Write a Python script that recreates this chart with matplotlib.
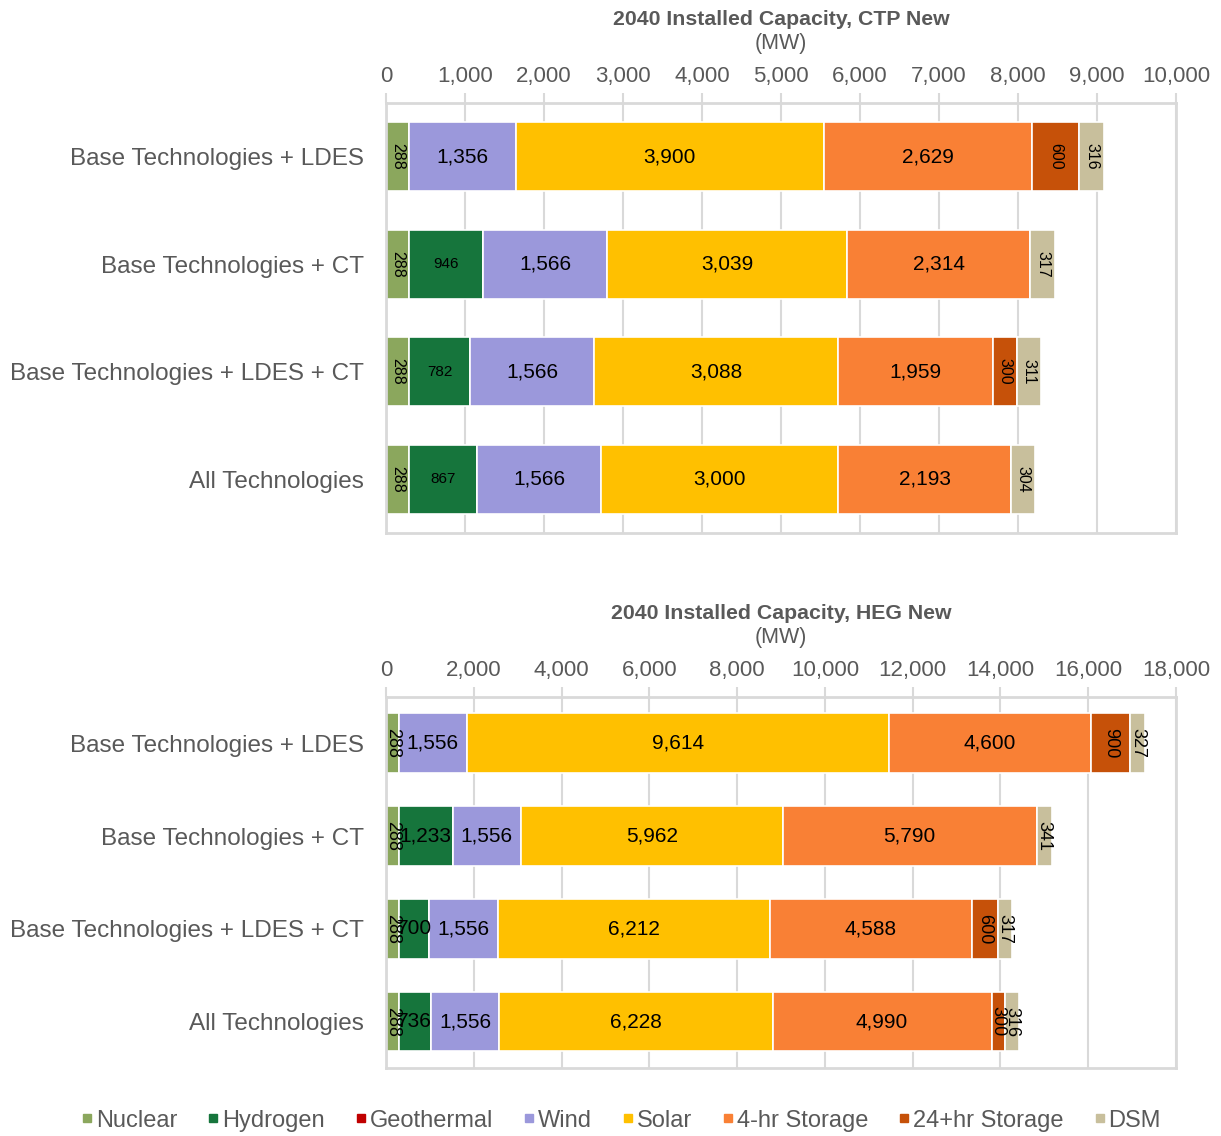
import matplotlib
matplotlib.use("Agg")
import matplotlib.pyplot as plt
from matplotlib.ticker import FuncFormatter, MultipleLocator
from matplotlib.lines import Line2D

plt.rcParams['font.family'] = ['Liberation Sans', 'DejaVu Sans']

categories = ["Base Technologies + LDES", "Base Technologies + CT",
              "Base Technologies + LDES + CT", "All Technologies"]
series = ["Nuclear", "Hydrogen", "Geothermal", "Wind", "Solar",
          "4-hr Storage", "24+hr Storage", "DSM"]
colors = ["#8BA75D", "#16753C", "#C00000", "#9B98DB", "#FFC000",
          "#F98035", "#C65109", "#C8BF9C"]

# CTP New, one list per technology (rows follow categories)
ctp_nuclear = [288, 288, 288, 288]
ctp_hydrogen = [0, 946, 782, 867]
ctp_geothermal = [0, 0, 0, 0]
ctp_wind = [1356, 1566, 1566, 1566]
ctp_solar = [3900, 3039, 3088, 3000]
ctp_4hr = [2629, 2314, 1959, 2193]
ctp_24hr = [600, 0, 300, 0]
ctp_dsm = [316, 317, 311, 304]

# HEG New
heg_nuclear = [288, 288, 288, 288]
heg_hydrogen = [0, 1233, 700, 736]
heg_geothermal = [0, 0, 0, 0]
heg_wind = [1556, 1556, 1556, 1556]
heg_solar = [9614, 5962, 6212, 6228]
heg_4hr = [4600, 5790, 4588, 4990]
heg_24hr = [900, 0, 600, 300]
heg_dsm = [327, 341, 317, 316]

GRID = "#D9D9D9"
TXT = "#595959"


def draw(ax, data, xmax, step, title, label_style, bar_h):
    y = list(range(len(categories)))
    left = [0] * len(categories)
    for name, vals, col in zip(series, data, colors):
        ax.barh(y, vals, left=left, height=bar_h, color=col,
                edgecolor="white", linewidth=1.2, zorder=2)
        rot, size = label_style[name]
        for i, v in enumerate(vals):
            if v > 0:
                ax.text(left[i] + v / 2, y[i], f"{v:,}", ha="center",
                        va="center", rotation=rot, fontsize=size,
                        color="black", zorder=3)
        left = [a + b for a, b in zip(left, vals)]

    ax.set_xlim(0, xmax)
    ax.set_ylim(len(categories) - 0.5, -0.5)
    ax.set_yticks(y)
    ax.set_yticklabels(categories)
    ax.xaxis.set_major_locator(MultipleLocator(step))
    ax.xaxis.set_major_formatter(FuncFormatter(lambda v, p: f"{int(v):,}"))
    ax.xaxis.tick_top()
    ax.tick_params(axis="x", length=7, width=1.5, color=GRID, pad=4.5,
                   labelsize=16, labelcolor=TXT)
    ax.tick_params(axis="y", length=0, pad=16, labelsize=17.5, labelcolor=TXT)
    ax.grid(axis="x", color=GRID, linewidth=1.5)
    ax.set_axisbelow(True)
    for sp in ax.spines.values():
        sp.set_color(GRID)
        sp.set_linewidth(2)

    pos = ax.get_position()
    cx = (pos.x0 + pos.x1) / 2
    fig.text(cx, pos.y1 + 0.0735, title, ha="center", va="center",
             fontsize=15.3, fontweight="bold", color=TXT)
    fig.text(cx, pos.y1 + 0.0525, "(MW)", ha="center", va="center",
             fontsize=15.5, color=TXT)


fig = plt.figure(figsize=(12.21, 11.36), dpi=100)
ax1 = fig.add_axes([0.3161, 0.5308, 0.647, 0.3785])
ax2 = fig.add_axes([0.3161, 0.0599, 0.647, 0.3266])

top_style = {"Nuclear": (270, 11.5), "Hydrogen": (0, 11), "Geothermal": (0, 11),
             "Wind": (0, 15), "Solar": (0, 15), "4-hr Storage": (0, 15),
             "24+hr Storage": (270, 11.5), "DSM": (270, 11.5)}
bottom_style = {"Nuclear": (270, 13), "Hydrogen": (0, 15), "Geothermal": (0, 15),
                "Wind": (0, 15), "Solar": (0, 15), "4-hr Storage": (0, 15),
                "24+hr Storage": (270, 13), "DSM": (270, 13)}

draw(ax1, [ctp_nuclear, ctp_hydrogen, ctp_geothermal, ctp_wind, ctp_solar,
           ctp_4hr, ctp_24hr, ctp_dsm],
     10000, 1000, "2040 Installed Capacity, CTP New", top_style, 0.64)
draw(ax2, [heg_nuclear, heg_hydrogen, heg_geothermal, heg_wind, heg_solar,
           heg_4hr, heg_24hr, heg_dsm],
     18000, 2000, "2040 Installed Capacity, HEG New", bottom_style, 0.645)

handles = [Line2D([], [], marker="s", linestyle="", markersize=6,
                  markerfacecolor=c, markeredgecolor=c) for c in colors]
fig.legend(handles, series, loc="center", bbox_to_anchor=(0.509, 0.0135),
           ncol=len(series), frameon=False, fontsize=17, labelcolor=TXT,
           handlelength=0.45, handletextpad=0.15, columnspacing=1.3)

fig.savefig("out.png", dpi=100)
